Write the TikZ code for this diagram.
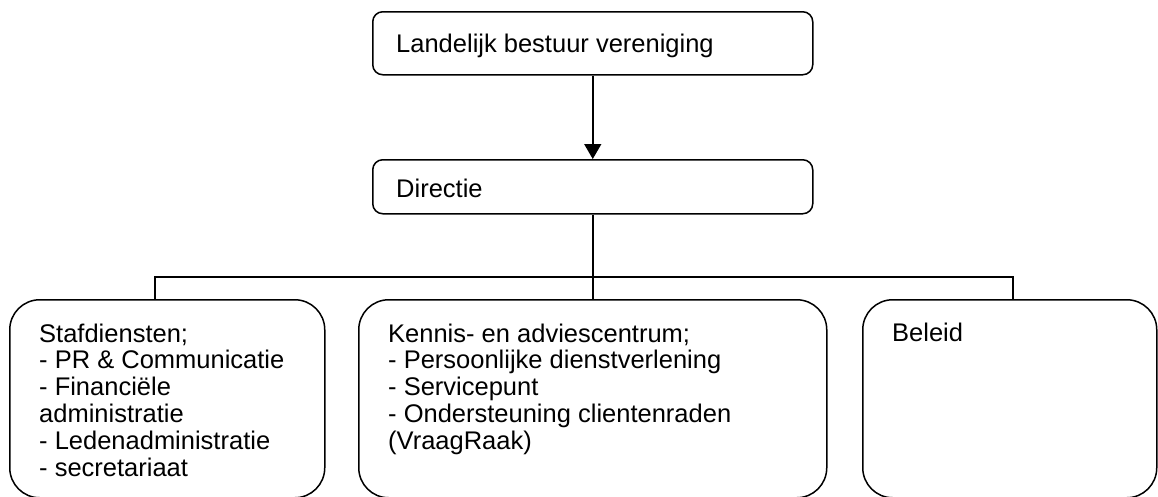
\documentclass[tikz,border=0pt]{standalone}
\usepackage{fontspec}
\setmainfont{Liberation Sans}
\usetikzlibrary{arrows.meta}

\begin{document}
\begin{tikzpicture}[x=1pt,y=-1pt,
	every node/.style={inner sep=0pt,font=\fontsize{25.5}{26.9}\selectfont},
	unit/.style={draw,line width=1.5pt,rounded corners=10pt,anchor=north west},
	dept/.style={unit,rounded corners=30pt,minimum height=198pt},
	txt/.style={anchor=base west,align=left},
	link/.style={draw,line width=1.5pt}]
\useasboundingbox (0,0) rectangle (1158,496);
% top of the organisation
\node[unit,minimum width=440pt,minimum height=63pt] (bestuur) at (372,11) {};
\node[txt] (bestuurtxt) at (396,52) {Landelijk bestuur vereniging};
\node[unit,minimum width=440pt,minimum height=54pt] (directie) at (372,159) {};
\node[txt] (directietxt) at (396,197) {Directie};
% departments (text anchored on its last line)
\node[dept,minimum width=315pt] (staf) at (9,299) {};
\node[txt] (staftxt) at (39,476.5) {Stafdiensten;\\- PR \& Communicatie\\- Financiële\\administratie\\- Ledenadministratie\\- secretariaat};
\node[dept,minimum width=468pt] (kennis) at (358,299) {};
\node[txt] (kennistxt) at (388,449.6) {Kennis- en adviescentrum;\\- Persoonlijke dienstverlening\\- Servicepunt\\- Ondersteuning clientenraden\\(VraagRaak)};
\node[dept,minimum width=294pt] (beleid) at (862,299) {};
\node[txt] (beleidtxt) at (892,341) {Beleid};
% connectors
\draw[link,-{Triangle[length=15pt,width=17pt]}] (bestuur.south) -- (directie.north);
\coordinate (bus) at (directie.south |- 0,277);
\draw[link] (directie.south) -- (kennis.north);
\draw[link] ([xshift=-12.5pt]staf.north) |- (bus) -| ([xshift=3pt]beleid.north);
\end{tikzpicture}
\end{document}
